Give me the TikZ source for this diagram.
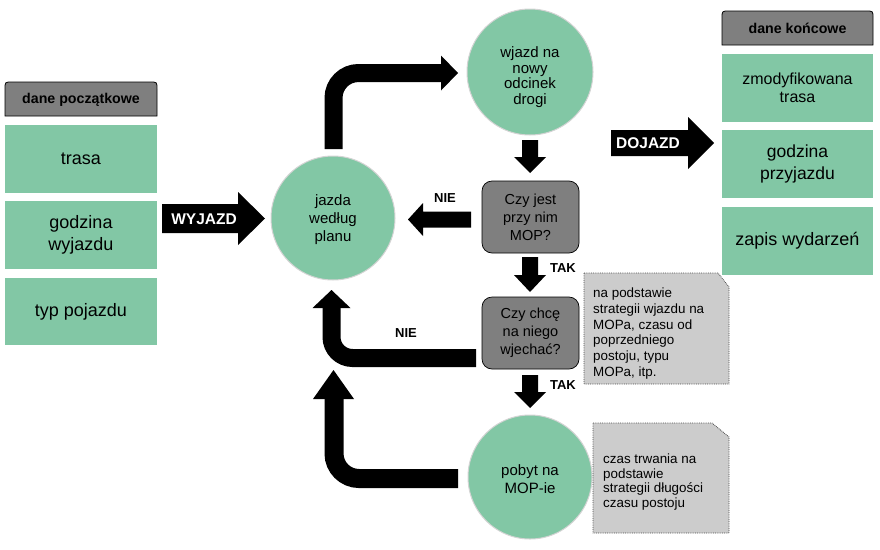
\documentclass[tikz,border=0pt]{standalone}
\usepackage{fontspec}
\setmainfont{Liberation Sans}
\usetikzlibrary{calc}
\definecolor{gr}{HTML}{82C7A5}
\definecolor{dg}{HTML}{7F7F7F}
\definecolor{lg}{HTML}{CCCCCC}
\definecolor{cb}{HTML}{D4D4D4}
\newcommand\downarr[4]{\fill (#1-8,#2) -- (#1+8,#2) -- (#1+8,#3) -- (#1+16,#3) -- (#1,#4) -- (#1-16,#3) -- (#1-8,#3) -- cycle;}
\begin{document}
\begin{tikzpicture}[x=1pt,y=-1pt,
  box/.style={fill=gr, minimum width=152pt, minimum height=68pt, align=center, inner sep=0pt, font=\fontsize{18}{21.5}\selectfont},
  rbox/.style={box, minimum width=151pt},
  hdrtext/.style={font=\fontsize{14.2}{16}\selectfont\bfseries, inner sep=0pt},
  circ/.style={circle, fill=gr, draw=cb, line width=1pt, minimum size=124pt, inner sep=0pt, align=center, font=\fontsize{15}{18}\selectfont},
  ctext/.style={align=center, inner sep=0pt, font=\fontsize{15}{15.5}\selectfont},
  decision/.style={rounded corners=10pt, fill=dg, draw=black, line width=0.7pt, minimum width=97pt, minimum height=72pt, inner sep=0pt, align=center, font=\fontsize{14.5}{18}\selectfont},
  notebg/.style={fill=lg, draw=black!70, densely dotted, line width=0.8pt},
  notetext/.style={anchor=west, align=left, inner sep=0pt, font=\fontsize{13.4}{15.8}\selectfont},
  lbl/.style={font=\fontsize{13}{15}\selectfont\bfseries, inner sep=0pt},
  arrlbl/.style={font=\fontsize{15.5}{17}\selectfont\bfseries, text=white, inner sep=0pt},
  fatline/.style={line width=18pt, black, rounded corners=25pt}
]
\useasboundingbox (0,0) rectangle (880,549);

% left column
\filldraw[fill=dg, draw=black, line width=0.8pt] (5,116) -- (5,89) .. controls (5,82) .. (12,82) -- (150,82) .. controls (157,82) .. (157,89) -- (157,116) -- cycle;
\node[hdrtext] (hdrL) at (81,99.5) {dane początkowe};
\node[box] (trasa) at (81,159) {trasa};
\node[box] (godzw) at (81,235) {godzina\\wyjazdu};
\node[box, minimum height=67pt] (typ) at (81,311.5) {typ pojazdu};

% right column
\filldraw[fill=dg, draw=black, line width=0.8pt] (722,45) -- (722,18) .. controls (722,11) .. (729,11) -- (866,11) .. controls (873,11) .. (873,18) -- (873,45) -- cycle;
\node[hdrtext] (hdrR) at (797.5,28.5) {dane końcowe};
\node[rbox, font=\fontsize{16}{18.5}\selectfont] (zmod) at (797.5,88) {zmodyfikowana\\trasa};
\node[rbox, font=\fontsize{17.5}{21.5}\selectfont] (godzp) at (797.5,164) {godzina\\przyjazdu};
\node[rbox] (zapis) at (797.5,241) {zapis wydarzeń};

% circles
\node[circ] (jazda) at (333,218) {};
\node[ctext, font=\fontsize{15}{18}\selectfont] (jazdat) at (333,220) {jazda\\według\\planu};
\node[circ, minimum size=126pt] (wjazd) at (530,72) {};
\node[ctext] (wjazdt) at (530,77) {wjazd na\\nowy\\odcinek\\drogi};
\node[circ] (pobyt) at (530,477) {};
\node[ctext, font=\fontsize{15}{18}\selectfont] (pobytt) at (530,479) {pobyt na\\MOP-ie};

% decisions
\node[decision] (czy1) at (530.5,217) {Czy jest\\przy nim\\MOP?};
\node[decision] (czy2) at (530.5,333) {Czy chcę\\na niego\\wjechać?};

% notes
\path[notebg] (584,273) -- (718,273) -- (729,287) -- (729,384) -- (584,384) -- cycle;
\node[notetext] (note1) at (593,333.5) {na podstawie\\strategii wjazdu na\\MOPa, czasu od\\poprzedniego\\postoju, typu\\MOPa, itp.};
\path[notebg] (593,423) -- (712,423) -- (729,437) -- (729,533) -- (593,533) -- cycle;
\node[notetext, font=\fontsize{13.4}{14.8}\selectfont] (note2) at (603,482) {czas trwania na\\podstawie\\strategii długości\\czasu postoju};

% WYJAZD arrow
\fill (162,204) -- (238,204) -- (238,192) -- (265,218.5) -- (238,245) -- (238,233) -- (162,233) -- cycle;
\node[arrlbl] (wyj) at (204,219) {WYJAZD};

% DOJAZD arrow
\fill (611,130) -- (688,130) -- (688,117) -- (714,143) -- (688,169) -- (688,156) -- (611,156) -- cycle;
\node[arrlbl] (doj) at (648,143) {DOJAZD};

% top curved arrow jazda -> wjazd
\draw[fatline] (333.5,149) -- (333.5,73) -- (442,73);
\fill (441,55.5) -- (458,73) -- (441,90.5) -- cycle;

% down arrow wjazd -> czy1
\downarr{530}{140}{157}{173}
% NIE arrow czy1 -> jazda
\fill (471,211.5) -- (423,211.5) -- (423,203) -- (408,219.5) -- (423,236) -- (423,227.5) -- (471,227.5) -- cycle;
\node[lbl] (nie1) at (445,198) {NIE};
% TAK arrows
\downarr{530}{257}{275}{292}
\node[lbl] (tak1) at (563,268) {TAK};
\downarr{530}{375}{392}{408}
\node[lbl] (tak2) at (563,385) {TAK};

% middle return arrow czy2 -> jazda
\draw[fatline, rounded corners=21pt] (476,358) -- (331.5,358) -- (331.5,307);
\fill (312.5,308) -- (331.5,290) -- (350.5,308) -- cycle;
\node[lbl] (nie2) at (406,333) {NIE};

% bottom return arrow pobyt -> jazda
\draw[fatline, line width=19pt] (458,478.5) -- (334,478.5) -- (334,398);
\fill (313,399) -- (333.5,370) -- (354,399) -- cycle;
\end{tikzpicture}
\end{document}
